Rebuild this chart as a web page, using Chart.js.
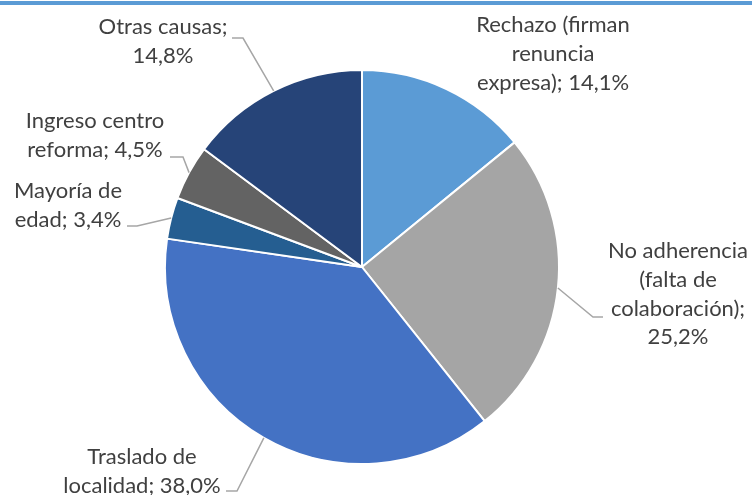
<!DOCTYPE html>
<html>
<head>
<meta charset="utf-8">
<script src="https://cdn.jsdelivr.net/npm/chart.js@4"></script>
<style>
  body { margin: 0; background: #fff; }
  #topbar { position: absolute; left: 0; top: 1px; width: 752px; height: 4px; background: #5B9BD5; }
  #chPie { position: absolute; left: 0; top: 0; }
</style>
</head>
<body>
<div id="topbar"></div>
<canvas id="chPie" width="752" height="495"></canvas>
<script>
// data
var categories = ['Rechazo (firman renuncia expresa)', 'No adherencia (falta de colaboración)',
  'Traslado de localidad', 'Mayoría de edad', 'Ingreso centro reforma', 'Otras causas'];
var values = [14.1, 25.2, 38.0, 3.4, 4.5, 14.8];

// chart colors
var colors = ['#5B9BD5', '#A5A5A5', '#4472C4', '#255E91', '#636363', '#264478'];

// label layout: words per line, block center x, first baseline, leader elbow (x,y) and end x
var wordsPerLine = [[2, 1, 2], [2, 2, 1, 1], [2, 2], [2, 2], [2, 2], [2, 1]];
var labelPos = [[553, 32], [678, 258], [142, 464], [68, 198], [95, 128], [163, 34]];
var leaders = [null, [593, 317, 603], [237, 491, 226], [137, 226, 127], [183, 157, 170], [243, 38, 232]];

function fmt(v) { return v.toFixed(1).replace('.', ',') + '%'; }

var labelPlugin = {
  id: 'pieLabels',
  afterDraw: function(chart) {
    var ctx = chart.ctx;
    var arcs = chart.getDatasetMeta(0).data;
    ctx.save();
    ctx.font = '22px Lato';
    ctx.fillStyle = '#404040';
    ctx.textAlign = 'center';
    ctx.textBaseline = 'alphabetic';
    categories.forEach(function(cat, i) {
      var words = (cat + '; ' + fmt(values[i])).split(' ');
      var lines = [], k = 0;
      wordsPerLine[i].forEach(function(n) {
        lines.push(words.slice(k, k + n).join(' '));
        k += n;
      });
      lines.forEach(function(t, j) {
        ctx.fillText(t, labelPos[i][0], labelPos[i][1] + j * 28.8);
      });
      // leader line from the middle of the arc edge
      if (leaders[i]) {
        var a = arcs[i];
        var mid = (a.startAngle + a.endAngle) / 2;
        var px = a.x + Math.cos(mid) * a.outerRadius;
        var py = a.y + Math.sin(mid) * a.outerRadius;
        ctx.strokeStyle = '#A6A6A6';
        ctx.lineWidth = 1.5;
        ctx.beginPath();
        ctx.moveTo(px, py);
        ctx.lineTo(leaders[i][0], leaders[i][1]);
        ctx.lineTo(leaders[i][2], leaders[i][1]);
        ctx.stroke();
      }
    });
    ctx.restore();
  }
};

new Chart(document.getElementById('chPie'), {
  type: 'pie',
  data: {
    labels: categories,
    datasets: [{
      data: values,
      backgroundColor: colors,
      borderColor: '#ffffff',
      borderWidth: 2
    }]
  },
  options: {
    responsive: false,
    animation: false,
    layout: { padding: { top: 69, bottom: 30, left: 164, right: 192 } },
    plugins: { legend: { display: false }, tooltip: { enabled: false } }
  },
  plugins: [labelPlugin]
});
</script>
</body>
</html>
